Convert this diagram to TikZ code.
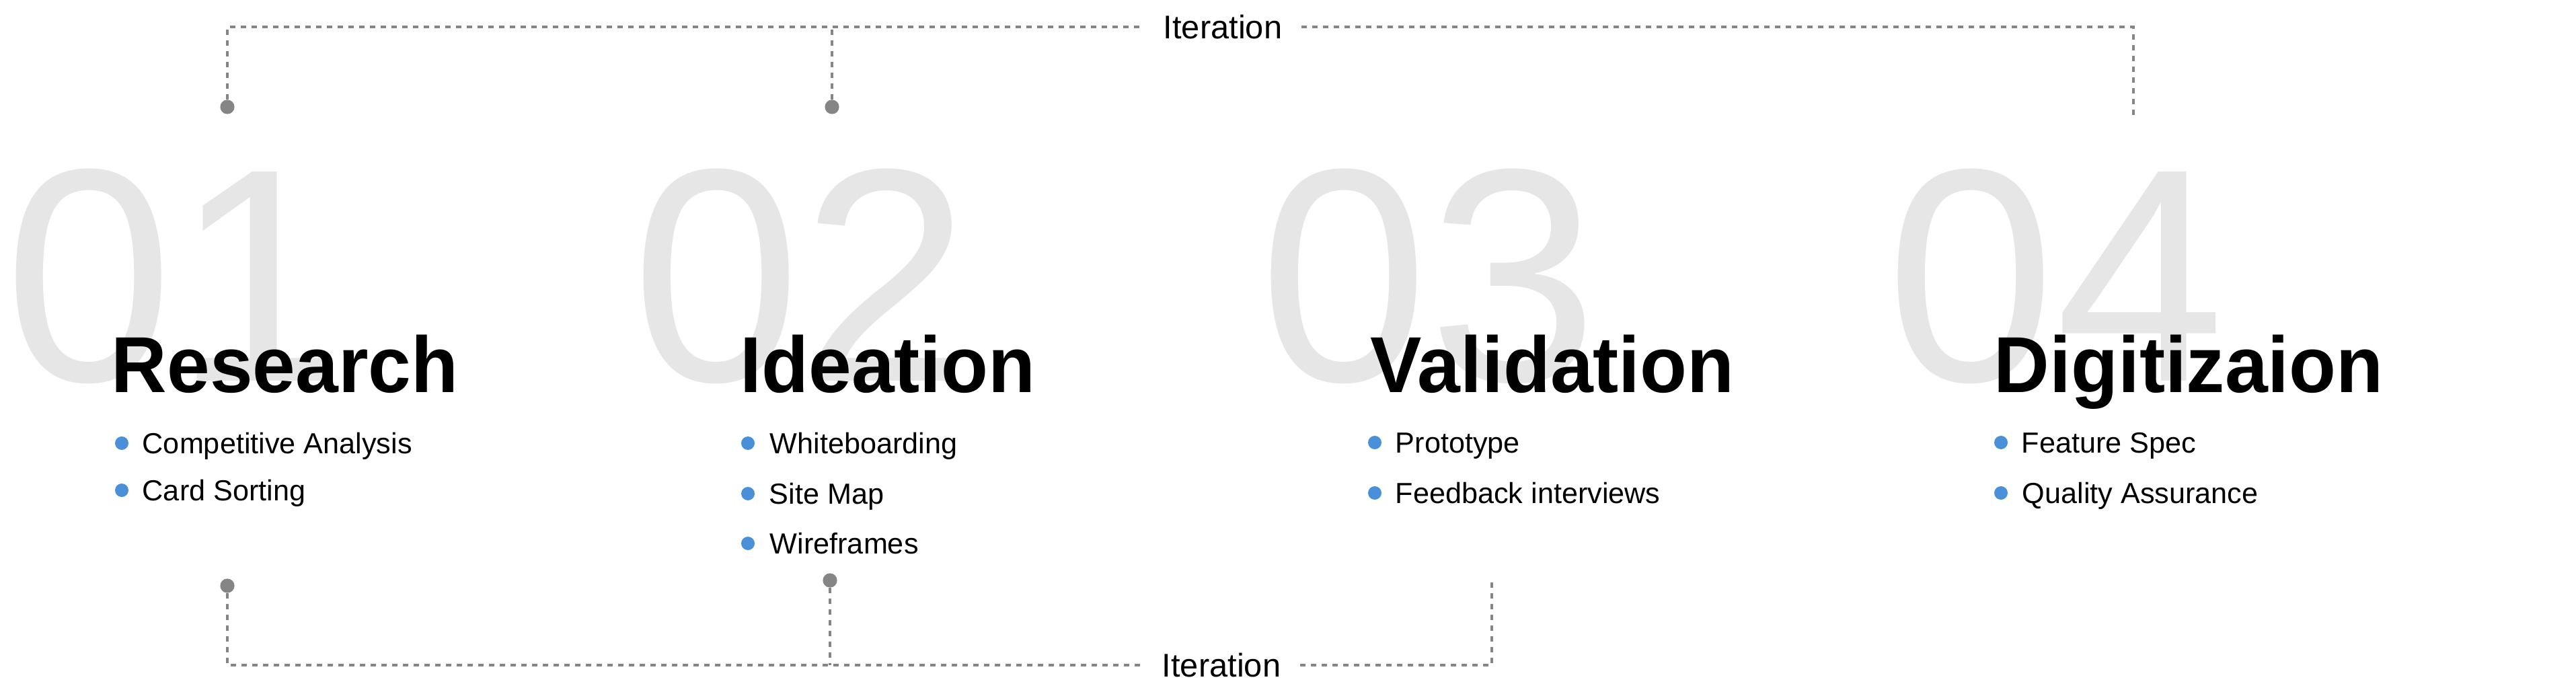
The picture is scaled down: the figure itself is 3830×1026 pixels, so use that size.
\documentclass[tikz,border=0pt]{standalone}
\usepackage{fontspec}
\setmainfont{Liberation Sans}
\newfontfamily\headfont[FakeStretch=0.97]{Liberation Sans}

\definecolor{numgray}{HTML}{E6E6E6}
\definecolor{dotblue}{HTML}{4A90D9}
\definecolor{loopgray}{HTML}{858585}

\tikzset{
    bignum/.style={anchor=base west,inner sep=0pt,text=numgray,font=\fontsize{113}{113}\selectfont},
    phase/.style={anchor=base west,inner sep=0pt,font=\headfont\bfseries\fontsize{29.5}{30}\selectfont},
    item/.style={anchor=base west,inner sep=0pt,font=\fontsize{10.8}{12}\selectfont},
    bullet/.style={circle,fill=dotblue,inner sep=0pt,minimum size=5pt},
    loopdot/.style={circle,fill=loopgray,inner sep=0pt,minimum size=5.3pt},
    loopline/.style={draw=loopgray,line width=1pt,dash pattern=on 2pt off 2pt},
    looplabel/.style={inner xsep=7pt,inner ysep=0pt,font=\fontsize{12.2}{13}\selectfont}
}

\begin{document}
\begin{tikzpicture}[x=0.25pt,y=-0.25pt]
                \useasboundingbox (0,0) rectangle (3830,1026);
                % big numbers behind
                \node[bignum] (n1) at (6,566) {01};
                \node[bignum] (n2) at (939,566) {02};
                \node[bignum] (n3) at (1872,566) {03};
                \node[bignum] (n4) at (2804,566) {04};
                % phases
                \node[phase] (research) at (165,584) {Research};
                \node[phase] (ideation) at (1100,584) {Ideation};
                \node[phase] (validation) at (2037,584) {Validation};
                \node[phase] (digit) at (2964,584) {Digitizaion};
                % research
                \node[bullet] (r1) at (181,659) {};
                \node[item] (r1t) at (211,674) {Competitive Analysis};
                \node[bullet] (r2) at (181,729) {};
                \node[item] (r2t) at (211,744) {Card Sorting};
                % ideation
                \node[bullet] (i1) at (1112,659) {};
                \node[item] (i1t) at (1144,674) {Whiteboarding};
                \node[bullet] (i2) at (1112,734) {};
                \node[item] (i2t) at (1143,749) {Site Map};
                \node[bullet] (i3) at (1112,808) {};
                \node[item] (i3t) at (1144,823) {Wireframes};
                % validation
                \node[bullet] (v1) at (2044,658) {};
                \node[item] (v1t) at (2074,673) {Prototype};
                \node[bullet] (v2) at (2044,733) {};
                \node[item] (v2t) at (2074,748) {Feedback interviews};
                % digitizaion
                \node[bullet] (d1) at (2975,658) {};
                \node[item] (d1t) at (3005,673) {Feature Spec};
                \node[bullet] (d2) at (2975,733) {};
                \node[item] (d2t) at (3006,748) {Quality Assurance};
                % iteration top
                \node[looplabel] (itop) at (1818,40) {Iteration};
                \node[loopdot] (t1) at (338,159) {};
                \node[loopdot] (t2) at (1237,159) {};
                \coordinate (tend) at (3172,172);
                \draw[loopline] (t1) |- (itop.west);
                \draw[loopline] (t2) -- (t2 |- itop.west);
                \draw[loopline] (itop.east) -| (tend);
                % iteration bottom
                \node[looplabel] (ibot) at (1816,989) {Iteration};
                \node[loopdot] (b1) at (338,871) {};
                \node[loopdot] (b2) at (1234,863) {};
                \coordinate (bend) at (2218,864);
                \draw[loopline] (b1) |- (ibot.west);
                \draw[loopline] (b2) -- (b2 |- ibot.west);
                \draw[loopline] (ibot.east) -| (bend);
            
            \end{tikzpicture}
\end{document}
